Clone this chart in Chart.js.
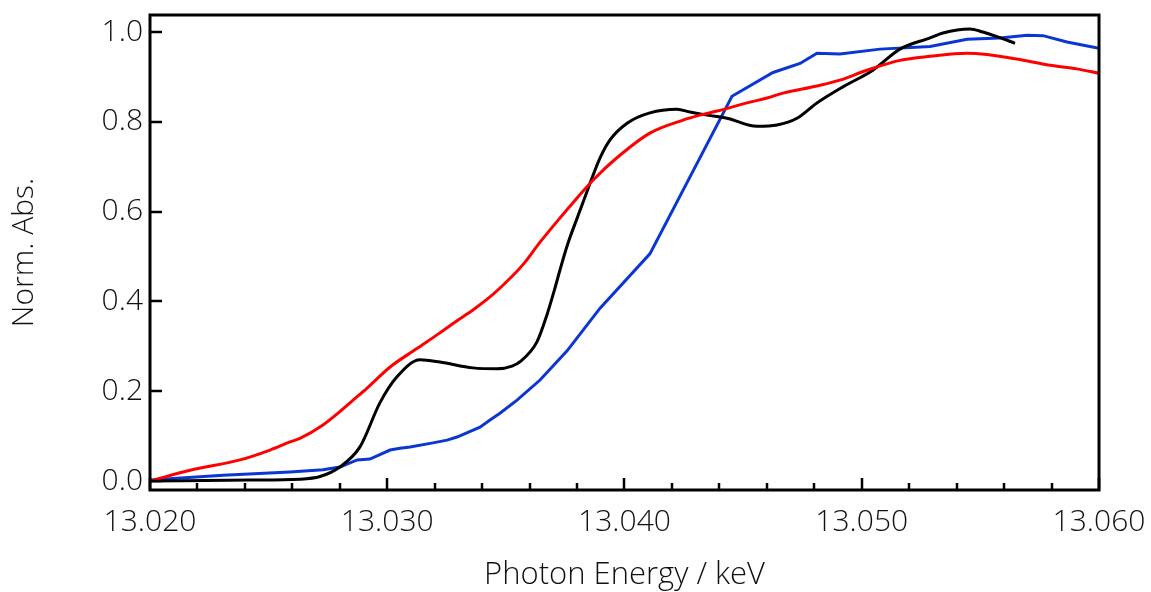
<!DOCTYPE html>
<html>
<head>
<meta charset="utf-8">
<script src="https://cdn.jsdelivr.net/npm/chart.js@4.4.1/dist/chart.umd.min.js"></script>
<style>
  html, body { margin: 0; padding: 0; background: #fff; }
  #wrap { width: 1151px; height: 592px; position: relative; }
</style>
</head>
<body>
<div id="wrap"><canvas id="xanes"></canvas></div>
<script>
// photon energy (keV) and normalised absorption
const blackE = [13.02000, 13.02421, 13.02632, 13.02717, 13.02797, 13.02885, 13.02969, 13.03041, 13.03138, 13.03222,
  13.03361, 13.03463, 13.03526, 13.03560, 13.03631, 13.03673, 13.03707, 13.03728, 13.03762, 13.03800,
  13.03842, 13.03863, 13.03897, 13.03939, 13.04011, 13.04107, 13.04221, 13.04276, 13.04348, 13.04432,
  13.04558, 13.04643, 13.04727, 13.04811, 13.04921, 13.05047, 13.05161, 13.05288, 13.05342, 13.05456,
  13.05511, 13.05570, 13.05646];
const blackAbs = [0.000, 0.002, 0.004, 0.010, 0.030, 0.076, 0.174, 0.232, 0.270, 0.265,
  0.252, 0.250, 0.256, 0.266, 0.310, 0.370, 0.430, 0.470, 0.530, 0.585,
  0.645, 0.675, 0.720, 0.760, 0.797, 0.820, 0.828, 0.822, 0.815, 0.808,
  0.790, 0.793, 0.808, 0.842, 0.878, 0.915, 0.962, 0.987, 0.998, 1.007,
  1.000, 0.990, 0.975];

const redE = [13.02000, 13.02169, 13.02379, 13.02506, 13.02590, 13.02632, 13.02729, 13.02801, 13.02856, 13.02915,
  13.03012, 13.03125, 13.03222, 13.03294, 13.03361, 13.03433, 13.03505, 13.03572, 13.03644, 13.03728,
  13.03783, 13.03867, 13.03968, 13.04107, 13.04247, 13.04318, 13.04390, 13.04529, 13.04601, 13.04668,
  13.04811, 13.04908, 13.05022, 13.05161, 13.05288, 13.05444, 13.05528, 13.05654, 13.05793, 13.05907,
  13.06000];
const redAbs = [0.000, 0.024, 0.047, 0.069, 0.087, 0.095, 0.125, 0.155, 0.180, 0.207,
  0.254, 0.295, 0.330, 0.357, 0.381, 0.410, 0.445, 0.482, 0.532, 0.586,
  0.620, 0.670, 0.720, 0.775, 0.804, 0.815, 0.824, 0.844, 0.853, 0.864,
  0.880, 0.893, 0.915, 0.937, 0.946, 0.953, 0.950, 0.940, 0.926, 0.918,
  0.908];

const blueE = [13.02000, 13.02308, 13.02590, 13.02729, 13.02801, 13.02873, 13.02927, 13.03012, 13.03054, 13.03096,
  13.03193, 13.03252, 13.03294, 13.03391, 13.03433, 13.03475, 13.03547, 13.03644, 13.03758, 13.03897,
  13.04107, 13.04453, 13.04626, 13.04740, 13.04811, 13.04908, 13.05077, 13.05288, 13.05444, 13.05583,
  13.05697, 13.05764, 13.05865, 13.06000];
const blueAbs = [0.002, 0.013, 0.020, 0.025, 0.031, 0.047, 0.049, 0.069, 0.073, 0.076,
  0.085, 0.091, 0.098, 0.120, 0.136, 0.151, 0.180, 0.225, 0.290, 0.385,
  0.506, 0.857, 0.910, 0.930, 0.953, 0.951, 0.962, 0.968, 0.984, 0.987,
  0.993, 0.992, 0.978, 0.964];

const xTicks = [13.020, 13.030, 13.040, 13.050, 13.060];
const xMinorTicks = [13.022, 13.024, 13.026, 13.028, 13.032, 13.034, 13.036, 13.038,
  13.042, 13.044, 13.046, 13.048, 13.052, 13.054, 13.056, 13.058];
const yTicks = [0.0, 0.2, 0.4, 0.6, 0.8, 1.0];

const pts = (xs, ys) => xs.map((x, i) => ({ x: x, y: ys[i] }));

// box frame + inward ticks, placed through the chart's scales
const frameTicks = {
    id: 'frameTicks',
    afterDraw(chart) {
        const ctx = chart.ctx;
        const a = chart.chartArea;
        const xs = chart.scales.x, ys = chart.scales.y;
        ctx.save();
        ctx.strokeStyle = '#000';
        ctx.lineWidth = 3;
        ctx.strokeRect(a.left, a.top, a.right - a.left, a.bottom - a.top);
        ctx.lineWidth = 2.5;
        ctx.beginPath();
        yTicks.forEach(v => {
            const py = Math.round(ys.getPixelForValue(v));
            ctx.moveTo(a.left, py);
            ctx.lineTo(a.left + 12, py);
        });
        xTicks.forEach(v => {
            const px = Math.round(xs.getPixelForValue(v));
            ctx.moveTo(px, a.bottom);
            ctx.lineTo(px, a.bottom - 12);
        });
        xMinorTicks.forEach(v => {
            const px = Math.round(xs.getPixelForValue(v));
            ctx.moveTo(px, a.bottom);
            ctx.lineTo(px, a.bottom - 7);
        });
        ctx.stroke();
        ctx.restore();
    }
};

const fontFam = '"Open Sans", "Noto Sans", sans-serif';

new Chart(document.getElementById('xanes').getContext('2d'), {
    type: 'line',
    data: {
        datasets: [
            { label: 'red', data: pts(redE, redAbs), borderColor: '#ff0000', borderWidth: 3, pointRadius: 0, tension: 0.4, cubicInterpolationMode: 'monotone', fill: false },
            { label: 'black', data: pts(blackE, blackAbs), borderColor: '#000000', borderWidth: 3, pointRadius: 0, tension: 0.4, cubicInterpolationMode: 'monotone', fill: false },
            { label: 'blue', data: pts(blueE, blueAbs), borderColor: '#0a37d2', borderWidth: 3, pointRadius: 0, tension: 0, fill: false }
        ]
    },
    options: {
        responsive: true,
        maintainAspectRatio: false,
        animation: false,
        layout: { padding: { top: 15, right: 52, left: 0, bottom: 0 } },
        plugins: { legend: { display: false }, tooltip: { enabled: false } },
        scales: {
            x: {
                type: 'linear',
                min: 13.020,
                max: 13.060,
                grid: { display: false, drawTicks: false },
                border: { display: false },
                afterBuildTicks: s => { s.ticks = xTicks.map(v => ({ value: v })); },
                afterFit: s => { s.height = 102; s.paddingLeft = 0; s.paddingRight = 0; },
                ticks: {
                    padding: 14,
                    color: '#111',
                    maxRotation: 0,
                    font: { family: fontFam, size: 30, weight: 300 },
                    callback: v => v.toFixed(3)
                },
                title: {
                    display: true,
                    text: 'Photon Energy / keV',
                    color: '#111',
                    padding: { top: 0, bottom: 0 },
                    font: { family: fontFam, size: 31, weight: 300, lineHeight: 1.1 }
                }
            },
            y: {
                type: 'linear',
                min: -0.02,
                max: 1.038,
                grid: { display: false, drawTicks: false },
                border: { display: false },
                afterBuildTicks: s => { s.ticks = yTicks.map(v => ({ value: v })); },
                afterFit: s => { s.width = 150; s.paddingTop = 0; s.paddingBottom = 0; },
                ticks: {
                    padding: 7,
                    color: '#111',
                    font: { family: fontFam, size: 30, weight: 300 },
                    callback: v => v.toFixed(1)
                },
                title: {
                    display: true,
                    text: 'Norm. Abs.',
                    color: '#111',
                    padding: { top: 6, bottom: 0 },
                    font: { family: fontFam, size: 30, weight: 300 }
                }
            }
        }
    },
    plugins: [frameTicks]
});
</script>
</body>
</html>
